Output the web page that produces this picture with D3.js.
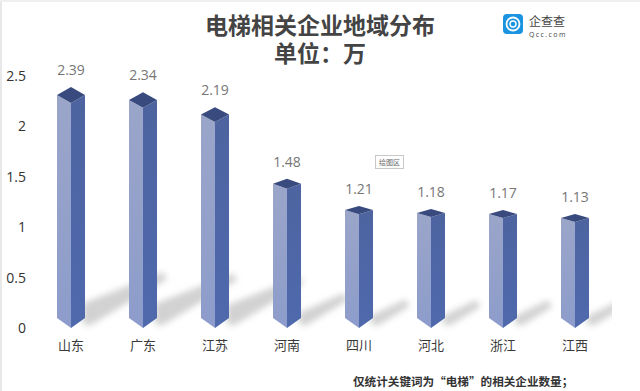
<!DOCTYPE html>
<html><head><meta charset="utf-8">
<script src="https://cdn.jsdelivr.net/npm/d3@7/dist/d3.min.js"></script>
<style>html,body{margin:0;padding:0;background:#fff}svg{display:block}</style></head>
<body><div id="c"></div>
<script>
const categories=["山东","广东","江苏","河南","四川","河北","浙江","江西"];
const values=[2.39,2.34,2.19,1.48,1.21,1.18,1.17,1.13];
const yTicks=[0,0.5,1,1.5,2,2.5];
const W=640,H=391,font="'Noto Sans CJK SC','Noto Sans',sans-serif";
const svg=d3.select("#c").append("svg").attr("width",W).attr("height",H).style("font-family",font);
const defs=svg.append("defs");
defs.append("filter").attr("id","blur").attr("x","-30%").attr("y","-50%").attr("width","160%").attr("height","200%")
  .append("feGaussianBlur").attr("stdDeviation",3.4);
defs.append("clipPath").attr("id","clip").append("rect").attr("x",0).attr("y",0).attr("width",612).attr("height",H);
const mkGrad=(id,a,b)=>{const g=defs.append("linearGradient").attr("id",id).attr("x1",0).attr("x2",0).attr("y1",0).attr("y2",1);
  g.append("stop").attr("offset",0).attr("stop-color",a);g.append("stop").attr("offset",1).attr("stop-color",b);};
mkGrad("lf","#9aa5c9","#8d9ccb");mkGrad("rf","#4d64a0","#4f69ad");
svg.append("rect").attr("x",0).attr("y",0).attr("width",2).attr("height",H).attr("fill","#e8e8e8");
svg.append("rect").attr("x",0).attr("y",0).attr("width",W).attr("height",2).attr("fill","#efefef");
const x=d3.scaleBand().domain(categories).range([35,611]);
const y=d3.scaleLinear().domain([0,2.5]).range([328,76]);
const rows=categories.map((c,i)=>({c,v:values[i]}));
const hw=14,dBot=10;
const dTop=d=>Math.max(4,8*d.v/2.39);
const cx=d=>x(d.c)+x.bandwidth()/2;
// shadows
svg.append("g").attr("clip-path","url(#clip)").selectAll("path").data(rows).join("path")
  .attr("filter","url(#blur)").attr("fill","#d2d2d2")
  .attr("d",d=>{const c=cx(d),b=y(0),lx=38.5*d.v,ly=23*d.v;
    return d3.line()([[c+12,b-ly*0.45],[c+lx,b-ly-1],[c+lx+4,b-ly+6],[c+20,b-3],[c+12,b-3]])+"Z";});
const g=svg.append("g").selectAll("g").data(rows).join("g");
// left face
g.append("path").attr("fill","url(#lf)").attr("d",d=>{const c=cx(d),t=y(d.v)+dTop(d),b=y(0);
  return d3.line()([[c-hw,t],[c,t+dTop(d)],[c,b],[c-hw,b-dBot]])+"Z";});
// right face
g.append("path").attr("fill","url(#rf)").attr("d",d=>{const c=cx(d),t=y(d.v)+dTop(d),b=y(0);
  return d3.line()([[c+hw,t],[c,t+dTop(d)],[c,b],[c+hw,b-dBot]])+"Z";});
// top face
g.append("path").attr("fill","#384a7e").attr("d",d=>{const c=cx(d),t=y(d.v);
  return d3.line()([[c,t],[c+hw,t+dTop(d)],[c,t+2*dTop(d)],[c-hw,t+dTop(d)]])+"Z";});
// value labels
g.append("text").attr("x",cx).attr("y",d=>y(d.v)-12).attr("text-anchor","middle").attr("font-size",14)
  .attr("font-family","'Open Sans','Noto Sans',sans-serif").attr("fill","#767676").text(d=>d.v.toFixed(2));
// category labels
g.append("text").attr("x",cx).attr("y",350).attr("text-anchor","middle").attr("font-size",13)
  .attr("fill","#3a3a3a").text(d=>d.c);
// y axis
const axis=svg.append("g").attr("transform","translate(26,0)").call(d3.axisLeft(y).tickValues(yTicks).tickSize(0).tickPadding(0).tickFormat(d3.format("")));
axis.select(".domain").remove();
axis.selectAll("text").attr("font-size",14).attr("font-family","'Open Sans','Noto Sans',sans-serif").attr("fill","#333");
// title
svg.append("text").attr("x",320).attr("y",34).attr("text-anchor","middle").attr("font-size",23).attr("font-weight",700).attr("fill","#444").text("电梯相关企业地域分布");
svg.append("text").attr("x",320).attr("y",62).attr("text-anchor","middle").attr("font-size",23).attr("font-weight",700).attr("fill","#444").text("单位：万");
// plot-area tag
svg.append("rect").attr("x",375.5).attr("y",155.5).attr("width",28).attr("height",13).attr("fill","#fff").attr("stroke","#c8c8c8");
svg.append("text").attr("x",389.5).attr("y",165).attr("text-anchor","middle").attr("font-size",7).attr("fill","#666").text("绘图区");
// note
svg.append("text").attr("x",353).attr("y",386).attr("font-size",11.6).attr("font-weight",700).attr("fill","#333").text("仅统计关键词为“电梯”的相关企业数量；");
// logo
const logo=svg.append("g").attr("transform","translate(503,14)");
logo.append("rect").attr("width",20).attr("height",20).attr("rx",4).attr("fill","#1a93e0");
logo.append("circle").attr("cx",10).attr("cy",10).attr("r",6.5).attr("fill","none").attr("stroke","#fff").attr("stroke-width",1.8);
logo.append("circle").attr("cx",10).attr("cy",10).attr("r",3).attr("fill","none").attr("stroke","#fff").attr("stroke-width",1.4);
svg.append("text").attr("x",529).attr("y",26).attr("font-size",12).attr("fill","#444").text("企查查");
svg.append("text").attr("x",529).attr("y",37).attr("font-size",7).attr("letter-spacing",1.4).attr("font-family","'Open Sans',sans-serif").attr("fill","#444").text("Qcc.com");
</script></body></html>
